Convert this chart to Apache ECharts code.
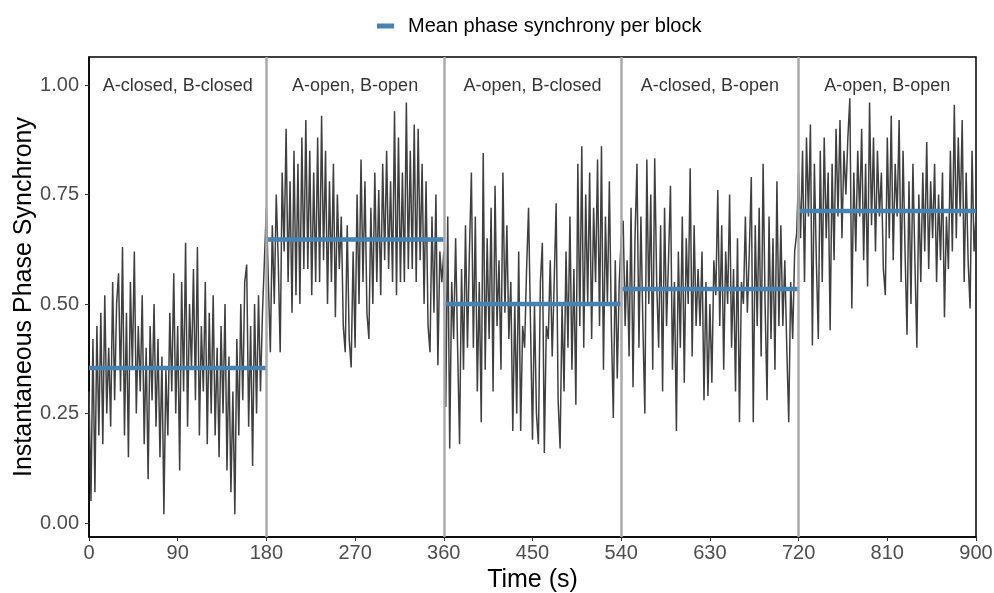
<!DOCTYPE html>
<html>
<head>
<meta charset="utf-8">
<script src="https://cdn.jsdelivr.net/npm/echarts@6/dist/echarts.min.js"></script>
<style>html,body{margin:0;padding:0;background:#fff}#c{width:994px;height:593px}</style>
</head>
<body>
<div id="c"></div>
<script>
const blockNames = ['A-closed, B-closed', 'A-open, B-open', 'A-open, B-closed', 'A-closed, B-open', 'A-open, B-open'];
const blockStarts = [0, 180, 360, 540, 720];
const blockEnd = 900;
const sampleStep = 2;
const xTicks = [0, 90, 180, 270, 360, 450, 540, 630, 720, 810, 900];
const yTicks = [0, 0.25, 0.5, 0.75, 1.0];
const legendName = 'Mean phase synchrony per block';

const block1 = [
0.30,0.05,0.42,0.07,0.45,0.20,0.48,0.18,0.52,0.25,
0.40,0.22,0.55,0.28,0.50,0.57,0.30,0.63,0.20,0.48,
0.15,0.55,0.35,0.62,0.25,0.45,0.30,0.52,0.18,0.40,
0.10,0.45,0.28,0.50,0.22,0.42,0.15,0.38,0.02,0.35,
0.20,0.48,0.30,0.57,0.25,0.45,0.12,0.55,0.30,0.64,
0.22,0.50,0.35,0.58,0.28,0.63,0.20,0.45,0.30,0.55,
0.18,0.48,0.25,0.52,0.20,0.40,0.15,0.45,0.25,0.50,
0.12,0.38,0.07,0.30,0.02,0.42,0.20,0.50,0.28,0.55,
0.59,0.22,0.45,0.13,0.50,0.25,0.52,0.30,0.48,0.60];
const block2 = [
0.72,0.55,0.39,0.68,0.50,0.75,0.60,0.39,0.80,0.62,
0.90,0.55,0.78,0.48,0.85,0.52,0.82,0.50,0.88,0.58,
0.92,0.58,0.85,0.52,0.80,0.55,0.88,0.55,0.93,0.60,
0.85,0.50,0.78,0.55,0.82,0.47,0.75,0.58,0.70,0.45,
0.39,0.68,0.42,0.355,0.62,0.40,0.75,0.50,0.83,0.55,
0.78,0.48,0.42,0.72,0.50,0.80,0.55,0.76,0.52,0.82,
0.60,0.85,0.58,0.78,0.55,0.94,0.52,0.88,0.55,0.80,
0.55,0.96,0.58,0.85,0.58,0.91,0.55,0.90,0.60,0.82,
0.50,0.78,0.45,0.39,0.70,0.48,0.75,0.36,0.62,0.55];
const block3 = [
0.62,0.265,0.70,0.17,0.55,0.42,0.65,0.40,0.18,0.58,
0.35,0.68,0.40,0.62,0.80,0.40,0.70,0.30,0.55,0.23,
0.845,0.35,0.65,0.42,0.72,0.30,0.77,0.45,0.60,0.35,
0.80,0.48,0.68,0.42,0.55,0.21,0.50,0.25,0.62,0.21,
0.45,0.40,0.58,0.72,0.45,0.19,0.50,0.25,0.18,0.55,
0.64,0.16,0.45,0.42,0.60,0.38,0.55,0.73,0.28,0.17,
0.50,0.30,0.62,0.40,0.70,0.35,0.58,0.27,0.82,0.45,
0.86,0.40,0.75,0.50,0.80,0.42,0.72,0.55,0.83,0.45,
0.86,0.35,0.70,0.50,0.78,0.45,0.24,0.60,0.33,0.55];
const block4 = [
0.65,0.69,0.45,0.60,0.38,0.72,0.31,0.65,0.82,0.40,
0.70,0.45,0.25,0.83,0.50,0.75,0.35,0.833,0.55,0.40,
0.68,0.30,0.72,0.45,0.60,0.77,0.35,0.55,0.21,0.62,
0.40,0.70,0.32,0.65,0.50,0.81,0.38,0.68,0.45,0.58,
0.45,0.62,0.28,0.55,0.29,0.50,0.32,0.60,0.52,0.76,
0.45,0.68,0.35,0.62,0.50,0.75,0.40,0.58,0.30,0.65,
0.23,0.55,0.50,0.70,0.48,0.62,0.79,0.23,0.68,0.45,
0.72,0.38,0.82,0.50,0.28,0.70,0.42,0.65,0.35,0.78,
0.45,0.68,0.45,0.60,0.40,0.23,0.55,0.42,0.62,0.66];
const block5 = [
0.80,0.65,0.85,0.55,0.88,0.70,0.91,0.405,0.82,0.60,
0.42,0.85,0.55,0.88,0.65,0.80,0.44,0.82,0.60,0.90,
0.70,0.92,0.65,0.85,0.75,0.88,0.97,0.49,0.80,0.62,
0.85,0.70,0.90,0.60,0.82,0.54,0.96,0.68,0.88,0.62,
0.85,0.70,0.80,0.58,0.52,0.88,0.65,0.93,0.60,0.82,
0.70,0.92,0.55,0.85,0.62,0.43,0.78,0.50,0.82,0.60,
0.40,0.75,0.55,0.80,0.62,0.87,0.58,0.78,0.65,0.82,
0.55,0.75,0.60,0.80,0.47,0.70,0.58,0.85,0.62,0.955,
0.65,0.88,0.70,0.92,0.55,0.80,0.60,0.49,0.85,0.62,0.70];
const blocks = [block1, block2, block3, block4, block5];

const syncData = [];
const meanData = [];
const labelData = [];
blocks.forEach((vals, b) => {
  const start = blockStarts[b];
  const end = b < blockStarts.length - 1 ? blockStarts[b + 1] : blockEnd;
  vals.forEach((v, i) => syncData.push([start + i * sampleStep, v]));
  const m = vals.reduce((s, v) => s + v, 0) / vals.length;
  meanData.push([start, m], [end, m], [end, '-']);
  labelData.push({ value: [(start + end) / 2, 0.997], name: blockNames[b] });
});

const FONT = '"Liberation Sans", Arial, sans-serif';
const chart = echarts.init(document.getElementById('c'), null, { renderer: 'canvas' });
chart.setOption({
  animation: false,
  backgroundColor: '#ffffff',
  grid: { left: 89, right: 18, top: 57, bottom: 56, containLabel: false, outerBoundsMode: 'none',
    show: true, borderColor: '#000', borderWidth: 1.5, backgroundColor: 'transparent' },
  legend: {
    data: [{ name: legendName, icon: 'rect' }],
    left: 372, top: 11,
    itemWidth: 17, itemHeight: 5,
    textStyle: { fontFamily: FONT, fontSize: 20, color: '#000', padding: [0, 0, 0, 9] }
  },
  xAxis: {
    type: 'value', min: 0, max: 900, interval: 90,
    name: 'Time (s)', nameLocation: 'middle', nameGap: 31, nameMoveOverlap: false,
    nameTextStyle: { fontFamily: FONT, fontSize: 25, color: '#000' },
    axisLine: { show: true, onZero: false, lineStyle: { color: '#000', width: 1.5 } },
    axisTick: { show: true, length: 4, lineStyle: { color: '#333', width: 1 } },
    axisLabel: { fontFamily: FONT, fontSize: 20, color: '#4d4d4d', margin: 6, customValues: xTicks },
    splitLine: { show: false }
  },
  yAxis: {
    type: 'value', min: -0.032, max: 1.064,
    name: 'Instantaneous Phase Synchrony', nameLocation: 'middle', nameGap: 52, nameMoveOverlap: false,
    nameTextStyle: { fontFamily: FONT, fontSize: 25, color: '#000' },
    axisLine: { show: true, onZero: false, lineStyle: { color: '#000', width: 1.5 } },
    axisTick: { show: true, length: 4, lineStyle: { color: '#333', width: 1 }, customValues: yTicks },
    axisLabel: { fontFamily: FONT, fontSize: 20, color: '#4d4d4d', margin: 10, customValues: yTicks,
      formatter: v => v.toFixed(2) },
    splitLine: { show: false }
  },
  series: [
    {
      name: 'dividers', type: 'line', data: [], z: 1, silent: true,
      markLine: {
        silent: true, symbol: ['none', 'none'], label: { show: false },
        lineStyle: { color: '#aaaaaa', width: 2.5, type: 'solid' },
        data: blockStarts.slice(1).map(x => ({ xAxis: x }))
      }
    },
    {
      name: 'sync', type: 'line', data: syncData, showSymbol: false, symbol: 'none', z: 2,
      lineStyle: { color: '#3f3f3f', width: 1.5 }, itemStyle: { color: '#3f3f3f' }
    },
    {
      name: legendName, type: 'line', data: meanData, showSymbol: false, symbol: 'none', z: 3,
      connectNulls: false,
      lineStyle: { color: '#4682b4', width: 4.5 }, itemStyle: { color: '#4682b4' }
    },
    {
      name: 'labels', type: 'scatter', data: labelData, symbolSize: 0.01, z: 4, silent: true,
      itemStyle: { color: '#000' },
      label: { show: true, position: 'inside', formatter: p => p.name,
        fontFamily: FONT, fontSize: 18, color: '#000', textBorderWidth: 0 }
    }
  ]
});
</script>
</body>
</html>
